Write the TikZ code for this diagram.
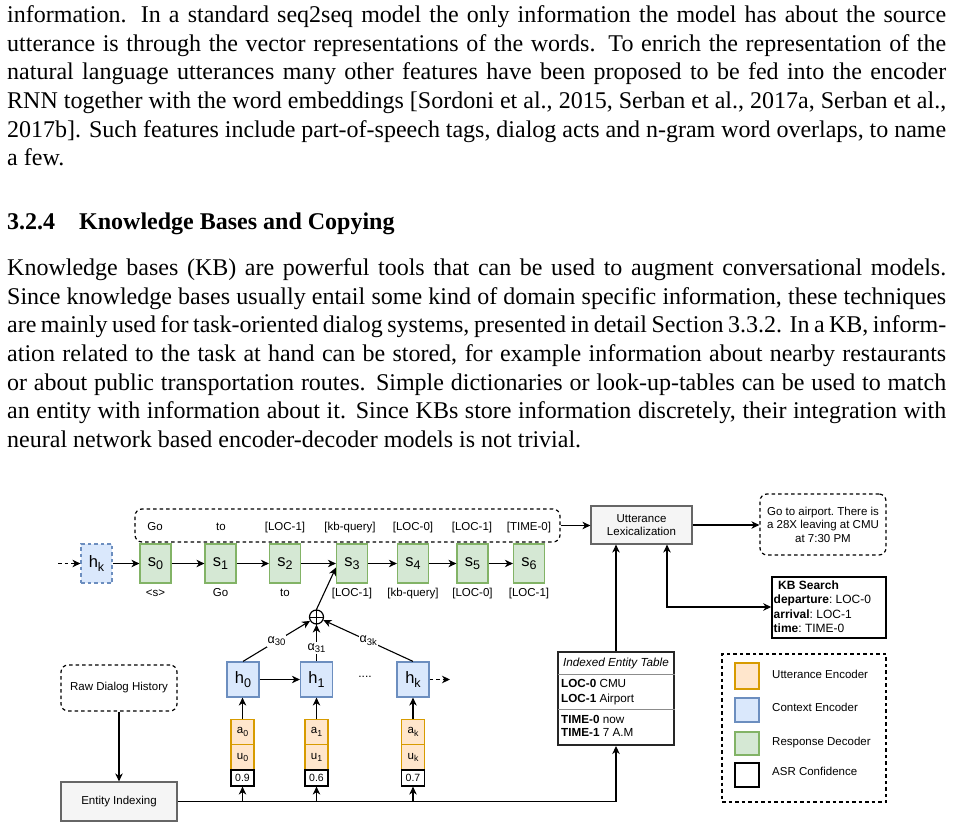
\documentclass[tikz,border=0pt]{standalone}
\usepackage{fontspec}
\usepackage{graphicx}
\setmainfont{Liberation Serif}
\newfontfamily\dfont{Liberation Sans}
\usetikzlibrary{arrows.meta,calc}
\definecolor{grnF}{HTML}{D5E8D4}\definecolor{grnS}{HTML}{82B366}
\definecolor{bluF}{HTML}{DAE8FC}\definecolor{bluS}{HTML}{6C8EBF}
\definecolor{orgF}{HTML}{FFE6CC}\definecolor{orgS}{HTML}{D79B00}
\definecolor{gryF}{HTML}{F5F5F5}\definecolor{gryS}{HTML}{666666}
\newcommand\sbs[1]{\raisebox{-0.22em}{\scalebox{0.76}{#1}}}
\tikzset{
  pline/.style={anchor=base west, inner sep=0pt, font=\rmfamily\nonfrenchspacing\fontsize{24}{28.5}\selectfont},
  dsh/.style={dash pattern=on 3.5pt off 3pt},
  conn/.style={line width=1.1pt,->},
  lbl/.style={anchor=base, inner sep=0pt},
  lblw/.style={anchor=base west, inner sep=0pt},
  big/.style={font=\dfont\frenchspacing\fontsize{16.5}{19}\selectfont},
  sbx/.style={draw=grnS, fill=grnF, line width=1.2pt, minimum width=31pt, minimum height=39pt, inner sep=0pt, big},
  hbx/.style={draw=bluS, fill=bluF, line width=1.2pt, minimum width=32pt, minimum height=35pt, inner sep=0pt, big},
  obx/.style={draw=orgS, fill=orgF, line width=1.2pt, minimum width=23pt, minimum height=25.5pt, inner sep=0pt, font=\dfont\fontsize{11.5}{12}\selectfont},
  cbx/.style={draw=black, fill=white, line width=1.2pt, minimum width=23pt, minimum height=16pt, inner sep=0pt, font=\dfont\fontsize{10.5}{12}\selectfont},
  gbx/.style={draw=gryS, fill=gryF, line width=1.2pt, inner sep=0pt},
  rbx/.style={draw=black, dsh, line width=1.2pt, rounded corners=7pt, inner sep=0pt},
  alab/.style={fill=white, inner sep=1pt, font=\dfont\frenchspacing\fontsize{12.5}{13}\selectfont},
  leg/.style={line width=1.2pt, minimum width=24pt, minimum height=24pt, inner sep=0pt},
  kbt/.style={anchor=base west, inner sep=0pt, font=\dfont\frenchspacing\fontsize{12}{14}\selectfont},
  iett/.style={anchor=base west, inner sep=0pt, font=\dfont\frenchspacing\fontsize{11.7}{13}\selectfont},
}
\begin{document}
\frenchspacing
\begin{tikzpicture}[x=1pt,y=-1pt, >={Stealth[length=8pt,width=7.5pt,inset=2.5pt]},
  font=\dfont\frenchspacing\fontsize{11.5}{13.5}\selectfont]
\useasboundingbox (0,0) rectangle (954,829);

% ---------------- text ----------------
\node[pline] (t1) at (7,22.7) {\makebox[939pt][s]{information. In a standard seq2seq model the only information the model has about the source}};
\node[pline] (t2) at (7,51.3) {\makebox[939pt][s]{utterance is through the vector representations of the words. To enrich the representation of the}};
\node[pline] (t3) at (7,79.9) {\makebox[939pt][s]{natural language utterances many other features have been proposed to be fed into the encoder}};
\node[pline] (t4) at (7,108.5) {\makebox[939pt][s]{RNN together with the word embeddings [Sordoni et al., 2015, Serban et al., 2017a, Serban et al.,}};
\node[pline] (t5) at (7,137.1) {\makebox[939pt][s]{2017b]. Such features include part-of-speech tags, dialog acts and n-gram word overlaps, to name}};
\node[pline] (t6) at (7,165.7) {a few.};
\node[pline] (hd) at (7,230) {\bfseries 3.2.4\quad Knowledge Bases and Copying};
\node[pline] (u1) at (7,276) {\makebox[939pt][s]{Knowledge bases (KB) are powerful tools that can be used to augment conversational models.}};
\node[pline] (u2) at (7,304.5) {\makebox[939pt][s]{Since knowledge bases usually entail some kind of domain specific information, these techniques}};
\node[pline] (u3) at (7,333) {\makebox[939pt][s]{are mainly used for task-oriented dialog systems, presented in detail Section 3.3.2. In a KB, inform-}};
\node[pline] (u4) at (7,361.5) {\makebox[939pt][s]{ation related to the task at hand can be stored, for example information about nearby restaurants}};
\node[pline] (u5) at (7,390) {\makebox[939pt][s]{or about public transportation routes. Simple dictionaries or look-up-tables can be used to match}};
\node[pline] (u6) at (7,418.5) {\makebox[939pt][s]{an entity with information about it. Since KBs store information discretely, their integration with}};
\node[pline] (u7) at (7,447) {neural network based encoder-decoder models is not trivial.};

% ---------------- decoder row ----------------
\node[rbx, minimum width=425pt, minimum height=33pt] (wbox) at (347.5,525.5) {};
\node[lbl] (w1) at (155,530.7) {Go};
\node[lbl] (w2) at (221,530.7) {to};
\node[lbl] (w3) at (285,530.7) {[LOC-1]};
\node[lbl] (w4) at (350,530.7) {[kb-query]};
\node[lbl] (w5) at (413,530.7) {[LOC-0]};
\node[lbl] (w6) at (472,530.7) {[LOC-1]};
\node[lbl] (w7) at (529,530.7) {[TIME-0]};

\node[hbx, dsh, minimum width=31pt, minimum height=39pt] (hk0) at (96.5,563.5) {h\sbs{k}};
\node[sbx] (s0) at (155.5,563.5) {s\sbs{0}};
\node[sbx] (s1) at (220.5,563.5) {s\sbs{1}};
\node[sbx] (s2) at (285,563.5) {s\sbs{2}};
\node[sbx] (s3) at (352,563.5) {s\sbs{3}};
\node[sbx] (s4) at (413,563.5) {s\sbs{4}};
\node[sbx] (s5) at (472.5,563.5) {s\sbs{5}};
\node[sbx] (s6) at (529,563.5) {s\sbs{6}};
\coordinate (in0) at (58,563.5);
\draw[conn, dsh] (in0) -- (hk0);
\draw[conn] (hk0) -- (s0);
\draw[conn] (s0) -- (s1);
\draw[conn] (s1) -- (s2);
\draw[conn] (s2) -- (s3);
\draw[conn] (s3) -- (s4);
\draw[conn] (s4) -- (s5);
\draw[conn] (s5) -- (s6);

\node[lbl] (b0) at (155.5,596) {<s>};
\node[lbl] (b1) at (220.5,596) {Go};
\node[lbl] (b2) at (285,596) {to};
\node[lbl] (b3) at (352,596) {[LOC-1]};
\node[lbl] (b4) at (413,596) {[kb-query]};
\node[lbl] (b5) at (472.5,596) {[LOC-0]};
\node[lbl] (b6) at (529,596) {[LOC-1]};

% ---------------- lexicalization ----------------
\node[gbx, minimum width=101pt, minimum height=38pt, align=center] (ulex) at (641.5,525) {Utterance\\Lexicalization};
\node[rbx, minimum width=126pt, minimum height=61pt, align=center] (out) at (823,524.5) {Go to airport. There is\\a 28X leaving at CMU\\at 7:30 PM};
\draw[conn] (wbox.east) -- (ulex.west |- wbox.east);
\draw[conn] (ulex.east) -- (out.west |- ulex.east);

\node[draw=black, line width=1.6pt, minimum width=114pt, minimum height=61pt, inner sep=0pt] (kb) at (829,607.5) {};
\node[kbt] (k1) at (778,589.3) {\textbf{KB Search}};
\node[kbt] (k2) at (773.5,603.3) {\textbf{departure}: LOC-0};
\node[kbt] (k3) at (773.5,618.3) {\textbf{arrival}: LOC-1};
\node[kbt] (k4) at (773.5,632.7) {\textbf{time}: TIME-0};
\coordinate (kbc) at (667,607);
\draw[line width=1.1pt, <->] (ulex.south -| kbc) -- (kbc) -- (kb.west |- kbc);

% ---------------- encoder ----------------
\node[circle, draw, line width=1.2pt, minimum size=14pt, inner sep=0pt, fill=white] (op) at (316.5,617) {};
\draw[line width=1pt] (op.north) -- (op.south) (op.west) -- (op.east);
\draw[conn] (op.north) -- ($(s3.south west)+(0,-16)$);

\node[hbx] (h0) at (243,679.5) {h\sbs{0}};
\node[hbx] (h1) at (316.5,679.5) {h\sbs{1}};
\node[hbx] (hk) at (413,679.5) {h\sbs{k}};
\node[anchor=base, inner sep=0pt, font=\dfont\fontsize{12}{14}\selectfont] (dots) at (365,677.5) {....};
\coordinate (hkout) at (450,679.5);
\draw[conn] (h0) -- (h1);
\draw[conn, dsh] (hk) -- (hkout);

\draw[conn] (h0.north) -- (op) node[alab, pos=0.5] (al0) {α\sbs{30}};
\draw[conn] (h1.north) -- (op) node[alab, pos=0.36] (al1) {α\sbs{31}};
\draw[conn] (hk.north) -- (op) node[alab, pos=0.5] (alk) {α\sbs{3k}};

\node[obx] (a0) at (242.5,732) {a\sbs{0}};
\node[obx] (x0) at (242.5,757.5) {u\sbs{0}};
\node[cbx] (c0) at (242.5,778) {0.9};
\node[obx] (a1) at (316.5,732) {a\sbs{1}};
\node[obx] (x1) at (316.5,757.5) {u\sbs{1}};
\node[cbx] (c1) at (316.5,778) {0.6};
\node[obx] (ak) at (413,732) {a\sbs{k}};
\node[obx] (xk) at (413,757.5) {u\sbs{k}};
\node[cbx] (ck) at (413,778) {0.7};
\draw[conn] (a0.north) -- (h0.south -| a0.north);
\draw[conn] (a1.north) -- (h1.south -| a1.north);
\draw[conn] (ak.north) -- (hk.south -| ak.north);

% ---------------- entity indexing ----------------
\node[rbx, minimum width=116pt, minimum height=46pt] (raw) at (119,688) {Raw Dialog History};
\node[gbx, minimum width=116pt, minimum height=39pt] (ent) at (119,801.5) {Entity Indexing};
\draw[conn] (raw) -- (ent);

\node[draw=black!85, line width=2pt, minimum width=116pt, minimum height=93pt, inner sep=0pt] (iet) at (616,698.5) {};
\node[lbl, font=\dfont\itshape\fontsize{11.7}{13}\selectfont] (ih) at (616,666.7) {Indexed Entity Table};
\coordinate (sepA) at (558,674);
\draw[black!45, line width=0.8pt] (sepA) -- (sepA -| iet.east);
\node[iett] (i1) at (561,687.7) {\textbf{LOC-0} CMU};
\node[iett] (i2) at (561,702) {\textbf{LOC-1} Airport};
\coordinate (sepB) at (558,709);
\draw[black!45, line width=0.8pt] (sepB) -- (sepB -| iet.east);
\node[iett] (i3) at (561,723.3) {\textbf{TIME-0} now};
\node[iett] (i4) at (561,736.7) {\textbf{TIME-1} 7 A.M};

\draw[conn] (ent.east) -- (iet.south |- ent.east) -- (iet.south);
\draw[conn] (c0.south |- ent.east) -- (c0.south);
\draw[conn] (c1.south |- ent.east) -- (c1.south);
\draw[conn] (ck.south |- ent.east) -- (ck.south);
\draw[conn] (iet.north) -- (iet.north |- ulex.south);

% ---------------- legend ----------------
\node[draw=black, dsh, line width=1.2pt, minimum width=164pt, minimum height=148pt, inner sep=0pt] (lgd) at (804,728) {};
\node[leg, draw=orgS, fill=orgF, minimum height=26pt] (q1) at (747,676) {};
\node[leg, draw=bluS, fill=bluF] (q2) at (747,710) {};
\node[leg, draw=grnS, fill=grnF, minimum height=23pt] (q3) at (747,743.5) {};
\node[leg, draw=black, fill=white] (q4) at (747,775) {};
\node[lblw] (l1) at (772,678.3) {Utterance Encoder};
\node[lblw] (l2) at (772,711.7) {Context Encoder};
\node[lblw] (l3) at (772,745) {Response Decoder};
\node[lblw] (l4) at (772,775.7) {ASR Confidence};
\end{tikzpicture}
\end{document}
